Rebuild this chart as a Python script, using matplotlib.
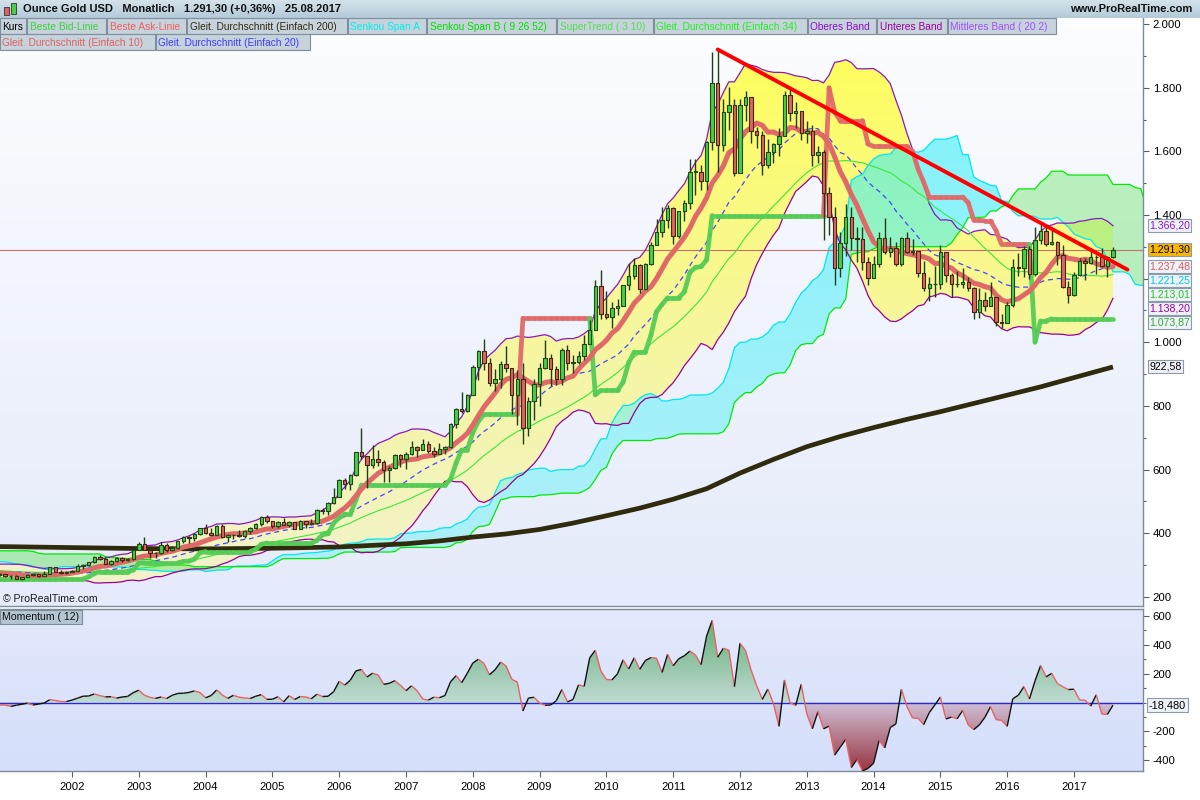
import numpy as np
import pandas as pd
import matplotlib
matplotlib.use("Agg")
import matplotlib.pyplot as plt
from matplotlib.colors import LinearSegmentedColormap
from matplotlib.collections import LineCollection, PolyCollection
from matplotlib.patches import Rectangle
from matplotlib.path import Path
import matplotlib.ticker as mticker

plt.rcParams['font.family'] = ['Liberation Sans', 'DejaVu Sans']

# ---------------------------------------------------------------------------
# Monthly gold quotes (USD/oz), first month 1994-08, last month 2017-08
# ---------------------------------------------------------------------------
FIRST_MONTH = "1994-08"

close = [
    385.8, 394.9, 383.1, 383.1, 383.3,                                            # 1994
    375.0, 376.4, 392.0, 389.8, 385.3, 387.1, 383.4, 382.4, 384.0, 382.7, 387.8, 387.0,  # 1995
    405.6, 400.7, 396.4, 392.3, 390.6, 382.0, 385.3, 386.5, 379.0, 379.5, 371.3, 369.3,  # 1996
    345.5, 358.6, 348.2, 340.2, 344.6, 334.6, 326.4, 325.4, 332.1, 311.4, 296.8, 290.2,  # 1997
    304.9, 297.4, 301.0, 310.7, 293.6, 296.3, 288.9, 273.4, 293.9, 292.3, 294.7, 288.3,  # 1998
    287.1, 287.3, 279.5, 286.6, 268.6, 261.0, 255.6, 254.8, 299.0, 299.1, 291.4, 290.3,  # 1999
    283.3, 293.7, 276.8, 275.1, 272.3, 288.2, 276.8, 277.0, 273.7, 264.5, 269.1, 272.7,  # 2000
    265.5, 266.7, 257.7, 263.2, 267.5, 270.6, 265.9, 273.0, 293.1, 278.8, 275.5, 279.0,  # 2001
    282.3, 296.9, 301.4, 308.2, 326.6, 318.5, 304.7, 312.8, 323.7, 316.9, 317.7, 347.2,  # 2002
    367.5, 347.5, 336.8, 336.8, 364.5, 346.0, 354.8, 375.6, 388.0, 386.3, 398.0, 416.1,  # 2003
    399.8, 395.9, 423.7, 388.5, 393.3, 395.8, 391.4, 407.3, 415.7, 429.4, 452.4, 438.0,  # 2004
    422.2, 435.5, 427.5, 435.7, 414.5, 437.1, 429.0, 433.3, 473.3, 470.8, 495.7, 513.0,  # 2005
    568.8, 556.0, 582.0, 654.5, 643.0, 613.5, 632.5, 623.5, 599.3, 603.8, 646.7, 632.0,  # 2006
    650.5, 672.0, 663.0, 679.0, 659.1, 650.5, 665.5, 672.0, 743.0, 789.5, 783.5, 833.8,  # 2007
    923.3, 971.5, 933.5, 871.0, 885.8, 930.3, 918.0, 833.0, 884.5, 730.8, 814.5, 869.8,  # 2008
    919.5, 952.0, 916.5, 883.3, 975.5, 934.5, 939.0, 955.5, 995.8, 1040.0, 1175.8, 1087.5,  # 2009
    1078.5, 1108.3, 1115.5, 1179.3, 1207.5, 1244.0, 1169.0, 1246.0, 1307.0, 1346.8, 1383.5, 1421.0,  # 2010
    1332.8, 1411.0, 1439.0, 1535.5, 1536.5, 1505.5, 1628.5, 1813.5, 1620.0, 1722.0, 1746.0, 1531.0,  # 2011
    1744.0, 1770.0, 1662.5, 1651.3, 1558.0, 1598.5, 1622.0, 1648.5, 1776.0, 1719.0, 1726.0, 1657.5,  # 2012
    1664.8, 1588.5, 1598.3, 1469.0, 1394.5, 1234.5, 1312.0, 1394.8, 1326.5, 1324.0, 1253.0, 1201.5,  # 2013
    1244.8, 1326.5, 1284.0, 1295.8, 1246.0, 1327.0, 1282.8, 1287.3, 1216.5, 1171.0, 1182.8, 1184.3,  # 2014
    1283.0, 1212.5, 1183.0, 1183.2, 1190.0, 1171.0, 1095.5, 1132.0, 1114.0, 1142.2, 1064.3, 1060.3,  # 2015
    1118.0, 1238.0, 1233.5, 1293.0, 1214.5, 1321.0, 1351.0, 1309.78, 1316.0, 1274.5, 1173.0, 1150.0,  # 2016
    1210.0, 1255.5, 1249.0, 1268.0, 1268.0, 1241.0, 1269.0, 1291.3,              # 2017
]

high = [
    387, 397, 396, 392, 386,
    384, 381, 393, 397, 392, 392, 389, 387, 387, 387, 389, 389,
    408, 418, 403, 397, 395, 390, 387, 390, 387, 383, 383, 373,
    369, 362, 358, 349, 349, 346, 335, 330, 336, 337, 311, 299,
    310, 306, 302, 314, 311, 297, 298, 291, 301, 301, 299, 297,
    294, 291, 292, 291, 290, 270, 265, 260, 302, 338, 300, 293,
    292, 316, 294, 289, 279, 291, 290, 280, 278, 274, 270, 276,
    273, 270, 268, 264, 273, 274, 271, 280, 295, 293, 284, 280,
    284, 303, 304, 311, 328, 332, 324, 315, 327, 324, 322, 350,
    373, 389, 355, 341, 372, 369, 360, 377, 391, 391, 400, 418,
    428, 418, 427, 428, 398, 398, 410, 409, 419, 431, 455, 457,
    440, 437, 447, 438, 436, 442, 439, 446, 476, 479, 497, 541,
    571, 574, 585, 655, 730, 643, 677, 663, 630, 610, 650, 650,
    654, 690, 673, 696, 691, 672, 684, 674, 746, 795, 845, 838,
    928, 976, 1011, 951, 915, 942, 988, 918, 913, 935, 828, 884,
    935, 1006, 962, 926, 981, 990, 960, 972, 1024, 1070, 1195, 1227,
    1162, 1128, 1136, 1180, 1249, 1265, 1245, 1250, 1315, 1388, 1425, 1432,
    1424, 1414, 1448, 1575, 1577, 1556, 1632, 1912, 1920, 1764, 1803, 1764,
    1763, 1791, 1718, 1677, 1665, 1640, 1627, 1673, 1788, 1796, 1754, 1724,
    1694, 1683, 1617, 1605, 1488, 1424, 1346, 1434, 1424, 1362, 1361, 1267,
    1270, 1345, 1392, 1331, 1315, 1332, 1345, 1323, 1288, 1255, 1205, 1239,
    1307, 1284, 1219, 1225, 1232, 1205, 1174, 1170, 1157, 1191, 1143, 1088,
    1127, 1263, 1282, 1303, 1303, 1362, 1375, 1366, 1352, 1317, 1306, 1192,
    1220, 1264, 1264, 1295, 1273, 1296, 1271, 1300,
]

low = [
    376, 384, 382, 381, 375,
    371, 372, 374, 388, 382, 384, 382, 380, 382, 381, 383, 384,
    386, 399, 395, 390, 389, 381, 380, 384, 378, 378, 370, 367,
    341, 341, 347, 336, 337, 334, 318, 320, 320, 307, 294, 283,
    277, 294, 288, 300, 292, 286, 287, 272, 272, 287, 290, 286,
    284, 285, 279, 278, 268, 257, 252, 252, 253, 294, 288, 279,
    281, 283, 275, 273, 271, 271, 275, 271, 270, 264, 263, 267,
    262, 255, 255, 254, 262, 265, 264, 265, 271, 277, 271, 271,
    277, 281, 288, 298, 306, 316, 302, 300, 310, 311, 313, 317,
    346, 346, 322, 322, 336, 342, 343, 350, 369, 370, 375, 396,
    398, 390, 394, 385, 372, 383, 387, 386, 398, 412, 424, 431,
    418, 416, 425, 421, 414, 414, 418, 427, 430, 460, 457, 493,
    514, 538, 536, 580, 634, 543, 605, 611, 560, 560, 602, 607,
    603, 647, 639, 661, 651, 641, 648, 649, 668, 732, 777, 781,
    833, 881, 913, 864, 846, 857, 907, 775, 740, 681, 705, 756,
    801, 917, 863, 865, 867, 913, 905, 932, 943, 1002, 1044, 1074,
    1072, 1044, 1086, 1113, 1163, 1200, 1155, 1175, 1243, 1315, 1330, 1358,
    1309, 1328, 1382, 1420, 1462, 1478, 1480, 1604, 1535, 1600, 1667, 1523,
    1563, 1694, 1627, 1612, 1527, 1547, 1564, 1586, 1686, 1696, 1672, 1636,
    1627, 1555, 1563, 1321, 1338, 1180, 1206, 1271, 1291, 1251, 1226, 1181,
    1202, 1238, 1277, 1268, 1240, 1240, 1281, 1273, 1206, 1160, 1131, 1142,
    1167, 1191, 1142, 1175, 1170, 1162, 1072, 1077, 1099, 1113, 1052, 1046,
    1062, 1110, 1208, 1206, 1199, 1207, 1310, 1301, 1305, 1242, 1171, 1123,
    1146, 1208, 1195, 1245, 1214, 1237, 1205, 1265,
]

# 200-month simple average (its long history is not listed above), sampled half-yearly
sma200_x = [2000.9, 2001.0, 2002.0, 2003.0, 2004.0, 2005.0, 2006.0, 2007.0, 2007.5,
            2008.0, 2008.5, 2009.0, 2009.5, 2010.0, 2010.5, 2011.0, 2011.5, 2012.0,
            2012.5, 2013.0, 2013.5, 2014.0, 2014.5, 2015.0, 2015.5, 2016.0, 2016.5,
            2017.0, 2017 + 7 / 12]
sma200_y = [358, 358, 355, 352, 351, 353, 357, 367, 376,
            388, 398, 412, 432, 455, 479, 507, 540, 589,
            632, 672, 704, 732, 758, 782, 808, 834, 860,
            889, 922.58]

# resistance line through the 2011 and 2016 highs
trend_anchor_x = [2011 + 8 / 12, 2016 + 6 / 12]
trend_anchor_y = [1920, 1375]
trend_end_x = 2017.8

year_ticks = list(range(2002, 2018))
price_ticks = [200, 400, 600, 800, 1000, 1200, 1400, 1600, 1800, 2000]
price_hidden_labels = [1200]          # covered by the value tags on the scale
mom_ticks = [-400, -200, 200, 400, 600]

legend_row1 = [
    ("Kurs", "#000000", 0, 26),
    ("Beste Bid-Linie", "#3fcf3f", 27, 106),
    ("Beste Ask-Linie", "#ee5f5f", 107, 186),
    ("Gleit. Durchschnitt (Einfach 200)", "#2f2a10", 187, 347),
    ("Senkou Span A", "#00eeee", 348, 426),
    ("Senkou Span B ( 9 26 52)", "#00dd00", 427, 556),
    ("SuperTrend ( 3 10)", "#55dd55", 557, 653),
    ("Gleit. Durchschnitt (Einfach 34)", "#22ee22", 654, 807),
    ("Oberes Band", "#8a10c8", 808, 876),
    ("Unteres Band", "#9a009a", 877, 947),
    ("Mittleres Band ( 20 2)", "#a050ff", 948, 1056),
]
legend_row2 = [
    ("Gleit. Durchschnitt (Einfach 10)", "#e06060", 0, 155),
    ("Gleit. Durchschnitt (Einfach 20)", "#3c3cff", 156, 310),
]

# ---------------------------------------------------------------------------
# indicators
# ---------------------------------------------------------------------------
n = len(close)
months = pd.period_range(FIRST_MONTH, periods=n, freq="M")
t = np.asarray(months.year + (months.month - 1) / 12.0, dtype=float)
c = pd.Series(close, dtype=float)
h = pd.Series(high, dtype=float)
l = pd.Series(low, dtype=float)
o = c.shift(1).fillna(c.iloc[0])

sma10 = c.rolling(10).mean()
sma20 = c.rolling(20).mean()
sma34 = c.rolling(34).mean()
std20 = c.rolling(20).std(ddof=0)
bb_up = sma20 + 2 * std20
bb_lo = sma20 - 2 * std20

SHIFT = 25
tenkan = (h.rolling(9).max() + l.rolling(9).min()) / 2
kijun = (h.rolling(26).max() + l.rolling(26).min()) / 2
span_a_raw = (tenkan + kijun) / 2
span_b_raw = (h.rolling(52).max() + l.rolling(52).min()) / 2
t_ext = np.r_[t, t[-1] + np.arange(1, SHIFT + 1) / 12.0]
span_a = np.r_[np.full(SHIFT, np.nan), span_a_raw.values]
span_b = np.r_[np.full(SHIFT, np.nan), span_b_raw.values]

prev_c = c.shift(1)
tr = pd.concat([h - l, (h - prev_c).abs(), (l - prev_c).abs()], axis=1).max(axis=1)
atr = tr.ewm(alpha=1 / 10, adjust=False).mean()
hl2 = (h + l) / 2
basic_up = (hl2 - 3 * atr).values
basic_dn = (hl2 + 3 * atr).values
cv = c.values
fu = np.zeros(n)
fd = np.zeros(n)
direction = np.ones(n, dtype=int)
fu[0], fd[0] = basic_up[0], basic_dn[0]
for i in range(1, n):
    fu[i] = max(basic_up[i], fu[i - 1]) if cv[i - 1] > fu[i - 1] else basic_up[i]
    fd[i] = min(basic_dn[i], fd[i - 1]) if cv[i - 1] < fd[i - 1] else basic_dn[i]
    if cv[i] > fd[i - 1]:
        direction[i] = 1
    elif cv[i] < fu[i - 1]:
        direction[i] = -1
    else:
        direction[i] = direction[i - 1]
supertrend = np.where(direction == 1, fu, fd)

momentum = (c - c.shift(12)).values

slope = (trend_anchor_y[1] - trend_anchor_y[0]) / (trend_anchor_x[1] - trend_anchor_x[0])
trend_x = [trend_anchor_x[0], trend_end_x]
trend_y = [trend_anchor_y[0], trend_anchor_y[0] + slope * (trend_end_x - trend_anchor_x[0])]

# ---------------------------------------------------------------------------
# figure layout (pixel based)
# ---------------------------------------------------------------------------
W, H = 1200, 800
fig = plt.figure(figsize=(12, 8), dpi=100)
fig.patch.set_facecolor("#ffffff")


def fx(px):
    return px / W


def fy(py):
    return 1 - py / H


PLOT_R = 1143
XMIN = 2002 - 72 / 66.8
XMAX = 2002 + (PLOT_R - 72) / 66.8
YLO, YHI = 171.5, 2018.9
MLO, MHI = -474, 647
MAIN_TOP, MAIN_BOT = 18, 606

ax = fig.add_axes([0, fy(MAIN_BOT), fx(PLOT_R), (MAIN_BOT - MAIN_TOP) / H])
axm = fig.add_axes([0, fy(771), fx(PLOT_R), (771 - 609) / H])


def panel_bg(a, top, bottom):
    cmap = LinearSegmentedColormap.from_list("bg", [bottom, top])
    a.imshow(np.linspace(0, 1, 64).reshape(-1, 1), extent=[0, 1, 0, 1],
             transform=a.transAxes, origin="lower", aspect="auto", cmap=cmap, zorder=0)


def gradient_between(a, x, y1, y2, colors, ylo, yhi, where=None, alpha=1.0, z=1.0):
    coll = a.fill_between(x, y1, y2, where=where, interpolate=True,
                          facecolor="none", edgecolor="none", linewidth=0)
    paths = [p for p in coll.get_paths() if len(p.vertices)]
    coll.remove()
    if not paths:
        return
    clip = Path.make_compound_path(*paths)
    cmap = LinearSegmentedColormap.from_list("fill", colors)
    im = a.imshow(np.linspace(0, 1, 256).reshape(-1, 1), extent=[XMIN - 1, XMAX + 2, ylo, yhi],
                  origin="lower", aspect="auto", cmap=cmap, alpha=alpha, zorder=z)
    im.set_clip_path(clip, a.transData)


panel_bg(ax, "#fcfdff", "#e5ebfa")
panel_bg(axm, "#e3e9fc", "#d5dffa")

# Bollinger band body
gradient_between(ax, t, bb_up.values, bb_lo.values, ["#f1f2cf", "#f7f79a", "#ffff55"],
                 YLO, YHI, alpha=1.0, z=1.0)

# Ichimoku cloud (translucent, so it turns green where it crosses the band body)
sa = np.asarray(span_a, dtype=float)
sb = np.asarray(span_b, dtype=float)
gradient_between(ax, t_ext, sa, sb, ["#8cf2f8", "#12eefa"], YLO, YHI,
                 where=sa >= sb, alpha=0.55, z=1.2)
gradient_between(ax, t_ext, sa, sb, ["#6ee46e", "#86ea86"], YLO, YHI,
                 where=sa < sb, alpha=0.5, z=1.2)
ax.plot(t_ext, sa, color="#00e6f0", lw=0.9, zorder=2)
ax.plot(t_ext, sb, color="#00ea00", lw=0.9, zorder=2)

# Bollinger outlines
ax.plot(t, bb_up, color="#8a18c0", lw=0.9, zorder=2.2)
ax.plot(t, bb_lo, color="#980098", lw=0.9, zorder=2.2)

# moving averages
ax.plot(t, sma34, color="#3ae83a", lw=0.8, zorder=2.4)
ax.plot(t, sma20, color="#4646ff", lw=0.9, dashes=(4, 3), zorder=2.4)
ax.plot(sma200_x, sma200_y, color="#2f2b0c", lw=3.4, zorder=2.6, solid_capstyle="butt")

# last price line
ax.axhline(close[-1], color="#c87070", lw=0.8, zorder=2.1)

# SuperTrend
st_segs = [[(t[i - 1], supertrend[i - 1]), (t[i], supertrend[i])] for i in range(1, n)]
st_cols = ["#55cc55" if direction[i] == 1 else "#e06a6a" for i in range(1, n)]
ax.add_collection(LineCollection(st_segs, colors=st_cols, linewidths=3.4,
                                 capstyle="round", joinstyle="round", alpha=0.95, zorder=3))

# 10-month average
ax.plot(t, sma10, color="#e06868", lw=3.6, zorder=3.2, solid_capstyle="round")

# candles
bw = 0.62 / 12
vis = t >= XMIN - 0.2
ov, hv, lv, cvv, tv = o.values[vis], h.values[vis], l.values[vis], c.values[vis], t[vis]
ax.vlines(tv, lv, hv, color="#1f3d16", lw=1.0, zorder=4)
up_boxes, dn_boxes = [], []
for ti, oi, ci in zip(tv, ov, cvv):
    lo_, hi_ = min(oi, ci), max(oi, ci)
    if hi_ - lo_ < 1.5:
        hi_ = lo_ + 1.5
    box = [(ti - bw / 2, lo_), (ti + bw / 2, lo_), (ti + bw / 2, hi_), (ti - bw / 2, hi_)]
    (up_boxes if ci >= oi else dn_boxes).append(box)
ax.add_collection(PolyCollection(up_boxes, facecolors="#48cf48", edgecolors="#1f4a16",
                                 linewidths=0.8, zorder=4.2))
ax.add_collection(PolyCollection(dn_boxes, facecolors="#e2645e", edgecolors="#3e2a16",
                                 linewidths=0.8, zorder=4.2))

# resistance line
ax.plot(trend_x, trend_y, color="#ff0000", lw=2.8, zorder=5, solid_capstyle="round")

ax.set_xlim(XMIN, XMAX)
ax.set_ylim(YLO, YHI)


def de_num(v, nd=0):
    s = f"{v:,.{nd}f}"
    return s.replace(",", "X").replace(".", ",").replace("X", ".")


ax.yaxis.tick_right()
ax.set_yticks(price_ticks)
ax.set_yticklabels(["" if v in price_hidden_labels else de_num(v) for v in price_ticks])
ax.yaxis.set_minor_locator(mticker.MultipleLocator(100))
ax.tick_params(axis="y", which="major", length=4, width=0.8, color="#55606a",
               labelsize=8.2, pad=3)
ax.tick_params(axis="y", which="minor", length=2, width=0.8, color="#55606a")
ax.tick_params(axis="x", which="both", bottom=False, labelbottom=False)
for side in ("top", "left"):
    ax.spines[side].set_visible(False)
for side in ("right", "bottom"):
    ax.spines[side].set_color("#7d8b99")
    ax.spines[side].set_linewidth(1.0)

# value tags on the price scale, stacked downwards so that they do not cover each other
last = n - 1
tags = [
    (bb_up.iloc[last], "#8a18c0", "#eef2f8"),
    (close[-1], "#000000", "#f8b800"),
    (sma10.iloc[last], "#e05858", "#eef2f8"),
    (sma34.iloc[last], "#22c822", "#eef2f8"),
    (sa[last], "#00c8e0", "#eef2f8"),
    (bb_lo.iloc[last], "#980098", "#eef2f8"),
    (supertrend[last], "#33aa33", "#eef2f8"),
    (sma200_y[-1], "#000000", "#eef2f8"),
]
tags.sort(key=lambda item: -item[0])
px_per_unit = (MAIN_BOT - MAIN_TOP) / (YHI - YLO)
tag_step = 14.0 / px_per_unit
ytr = ax.get_yaxis_transform()
prev_pos = None
for val, tc, fc in tags:
    pos = val if prev_pos is None else min(val, prev_pos - tag_step)
    prev_pos = pos
    ax.text(1 + 6 / PLOT_R, pos, de_num(val, 2), transform=ytr, fontsize=7.6, color=tc,
            va="center", ha="left", clip_on=False, zorder=10,
            bbox=dict(boxstyle="square,pad=0.14", facecolor=fc, edgecolor="#8d9aa8", linewidth=0.8))

fig.text(fx(3), fy(599), "\u00a9 ProRealTime.com", fontsize=7.6,
         color="#1a1a1a", va="center", ha="left", zorder=10)

# ---------------------------------------------------------------------------
# momentum panel
# ---------------------------------------------------------------------------
mom = np.asarray(momentum, dtype=float)
gradient_between(axm, t, mom, 0, ["#c0dbd3", "#58a86a"], 0, 650, where=mom >= 0, z=1)
gradient_between(axm, t, mom, 0, ["#98343f", "#d0c0d8"], -480, 0, where=mom < 0, z=1)
axm.axhline(0, color="#2a2ad0", lw=1.0, zorder=2)
m_segs, m_cols = [], []
for i in range(1, n):
    if np.isnan(mom[i - 1]) or np.isnan(mom[i]):
        continue
    m_segs.append([(t[i - 1], mom[i - 1]), (t[i], mom[i])])
    m_cols.append("#111111" if mom[i] >= mom[i - 1] else "#e86262")
axm.add_collection(LineCollection(m_segs, colors=m_cols, linewidths=1.0, zorder=3))

axm.set_xlim(XMIN, XMAX)
axm.set_ylim(MLO, MHI)
axm.yaxis.tick_right()
axm.set_yticks(mom_ticks)
axm.set_yticklabels([str(v) for v in mom_ticks])
axm.yaxis.set_minor_locator(mticker.MultipleLocator(100))
axm.tick_params(axis="y", which="major", length=4, width=0.8, color="#55606a",
                labelsize=8.2, pad=3)
axm.tick_params(axis="y", which="minor", length=2, width=0.8, color="#55606a")
axm.set_xticks(year_ticks)
axm.set_xticklabels([str(y) for y in year_ticks])
axm.xaxis.set_minor_locator(mticker.NullLocator())
axm.tick_params(axis="x", length=4, width=0.8, color="#55606a", labelsize=8.2, pad=4)
axm.spines["left"].set_visible(False)
for side in ("top", "right", "bottom"):
    axm.spines[side].set_color("#7d8b99")
    axm.spines[side].set_linewidth(1.0)

mtr = axm.get_yaxis_transform()
axm.text(1 + 6 / PLOT_R, mom[-1], de_num(mom[-1], 3), transform=mtr, fontsize=7.9,
         color="#000000", va="center", ha="left", clip_on=False, zorder=10,
         bbox=dict(boxstyle="square,pad=0.16", facecolor="#eef2f8", edgecolor="#8d9aa8", linewidth=0.8))

# ---------------------------------------------------------------------------
# header and indicator legend
# ---------------------------------------------------------------------------
hdr = fig.add_axes([0, fy(18), 1, 18 / H])
hdr.set_axis_off()
hdr.imshow(np.linspace(0, 1, 32).reshape(-1, 1), extent=[0, 1, 0, 1], origin="lower",
           aspect="auto", cmap=LinearSegmentedColormap.from_list("h", ["#b4cad8", "#d4e2ea"]))
hdr.set_xlim(0, 1)
hdr.set_ylim(0, 1)

# little candle icon
fig.add_artist(Rectangle((fx(4), fy(15)), fx(5), 8 / H, transform=fig.transFigure,
                         facecolor="#e06060", edgecolor="#333333", lw=0.6))
fig.add_artist(Rectangle((fx(11), fy(14)), fx(5), 11 / H, transform=fig.transFigure,
                         facecolor="#48cf48", edgecolor="#333333", lw=0.6))
fig.text(fx(23), fy(9.5), "Ounce Gold USD   Monatlich   1.291,30 (+0,36%)   25.08.2017",
         fontsize=8.0, fontweight="bold", va="center", ha="left", color="#111111")
fig.text(fx(1192), fy(9.5), "www.ProRealTime.com", fontsize=8.0, fontweight="bold",
         va="center", ha="right", color="#111111")


def legend_box(label, color, x0, x1, y0, y1):
    fig.add_artist(Rectangle((fx(x0), fy(y1)), fx(x1 - x0), (y1 - y0) / H,
                             transform=fig.transFigure, facecolor="#c6d3dc",
                             edgecolor="#7f8e9b", lw=0.8, zorder=20))
    fig.text(fx(x0 + 2.5), fy((y0 + y1) / 2 + 0.5), label, fontsize=7.3, color=color,
             va="center", ha="left", zorder=21)


for lab, col, a0, a1 in legend_row1:
    legend_box(lab, col, a0, a1, 18, 34)
for lab, col, a0, a1 in legend_row2:
    legend_box(lab, col, a0, a1, 34, 50)

# momentum caption
fig.add_artist(Rectangle((0, fy(624)), fx(82), 14 / H, transform=fig.transFigure,
                         facecolor="#b4c6d2", edgecolor="#7f8e9b", lw=0.8, zorder=20))
fig.text(fx(2.5), fy(617), "Momentum ( 12)", fontsize=7.6, color="#111111",
         va="center", ha="left", zorder=21)

fig.savefig("out.png", dpi=100)
